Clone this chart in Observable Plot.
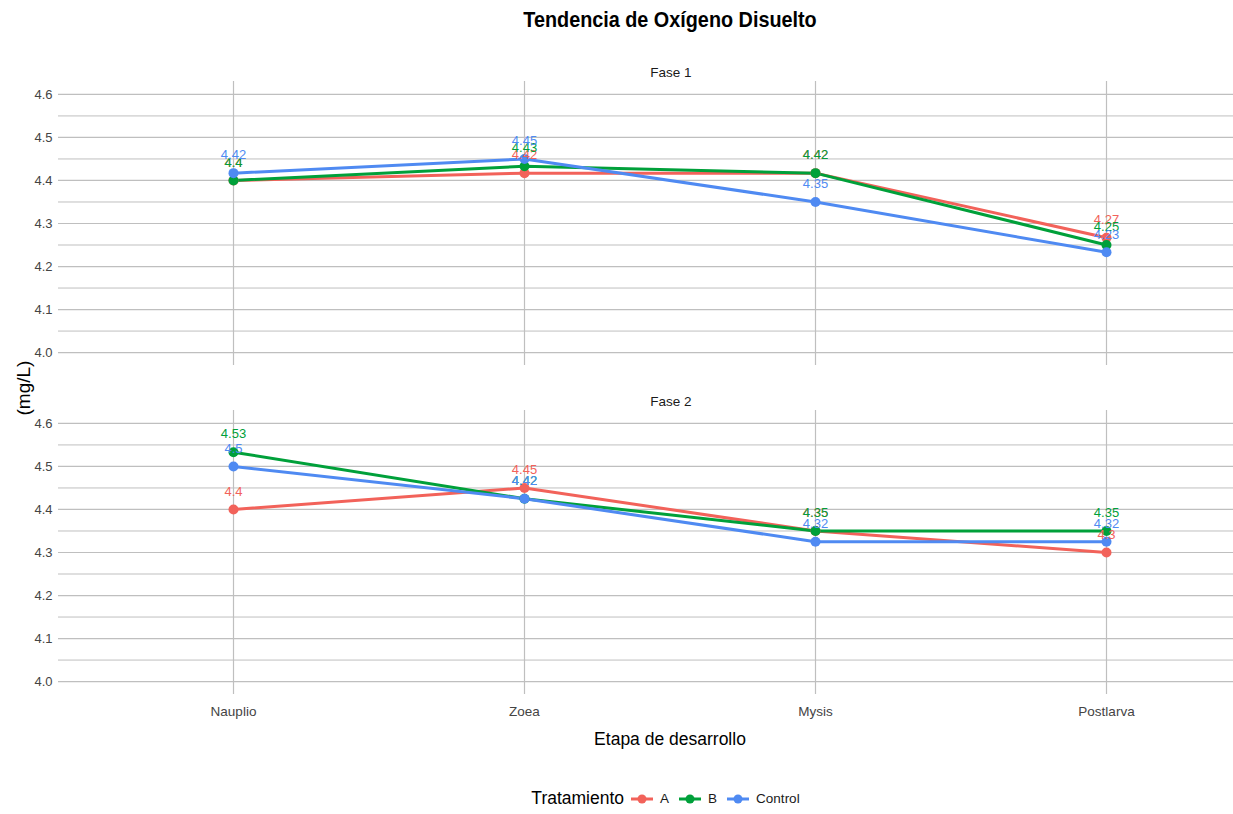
<!DOCTYPE html>
<html>
<head>
<meta charset="utf-8">
<script src="https://cdn.jsdelivr.net/npm/d3@7"></script>
<script src="https://cdn.jsdelivr.net/npm/@observablehq/plot@0.6"></script>
<style>
  body { margin:0; background:#fff; }
  #wrap { position:relative; width:1233px; height:814px; overflow:hidden; font-family:"Liberation Sans",Arial,sans-serif; }
  .abs { position:absolute; }
  #title { top:7px; left:0; width:1340px; text-align:center; font-size:22px; font-weight:bold; color:#000; transform:scaleX(0.9); }
  #ylab { left:24px; top:388px; transform:translate(-50%,-50%) rotate(-90deg); font-size:19px; color:#000; white-space:nowrap; }
  #xlab { top:729px; left:0; width:1340px; text-align:center; font-size:17.5px; color:#000; }
  #chart { top:45px; left:0; }
  #legend { top:788px; left:0; width:1340px; display:flex; justify-content:center; align-items:center; font-size:13.5px; color:#1a1a1a; }
  #legend .lt { font-size:17.5px; color:#000; margin-right:6px; }
  #legend .item { display:flex; align-items:center; margin-right:9px; }
  #legend svg { margin-right:6px; }
</style>
</head>
<body>
<div id="wrap">
  <div id="title" class="abs">Tendencia de Oxígeno Disuelto</div>
  <div id="ylab" class="abs">(mg/L)</div>
  <div id="chart" class="abs"></div>
  <div id="xlab" class="abs">Etapa de desarrollo</div>
  <div id="legend" class="abs"></div>
</div>
<script>
const stages = ["Nauplio", "Zoea", "Mysis", "Postlarva"];
const fases = ["Fase 1", "Fase 2"];
const treatments = ["A", "B", "Control"];
const colors = ["#F2625A", "#00A03A", "#4F8AF2"];
const majorTicks = [4.0, 4.1, 4.2, 4.3, 4.4, 4.5, 4.6];
const minorTicks = [4.05, 4.15, 4.25, 4.35, 4.45, 4.55];

// Fase 1
const fase1A = [4.40, 4.417, 4.417, 4.267];
const fase1B = [4.40, 4.433, 4.417, 4.25];
const fase1Control = [4.417, 4.45, 4.35, 4.233];
// Fase 2
const fase2A = [4.40, 4.45, 4.35, 4.30];
const fase2B = [4.533, 4.425, 4.35, 4.35];
const fase2Control = [4.50, 4.425, 4.325, 4.325];

const series = {
  "Fase 1": { A: fase1A, B: fase1B, Control: fase1Control },
  "Fase 2": { A: fase2A, B: fase2B, Control: fase2Control }
};
const data = [];
fases.forEach(f => treatments.forEach(t => stages.forEach((s, i) =>
  data.push({ fase: f, trat: t, etapa: s, valor: series[f][t][i] }))));

const fmt = v => String(+(v - 1e-9).toFixed(2));
const font = '"Liberation Sans",Arial,sans-serif';
const grid = "#BFBFBF";

const chart = Plot.plot({
  width: 1233,
  height: 715,
  marginLeft: 58,
  marginRight: 0,
  marginTop: 35,
  marginBottom: 65,
  style: { fontFamily: font, fontSize: "13px", color: "#4D4D4D", background: "transparent" },
  x: { type: "point", domain: stages, range: [233, 1106], padding: 0, axis: null },
  y: { domain: [3.97, 4.63], axis: null },
  fy: { domain: fases, paddingInner: 0.136, paddingOuter: 0, axis: null },
  color: { domain: treatments, range: colors },
  marks: [
    Plot.ruleY(minorTicks, { y: d => d, stroke: grid, strokeWidth: 1 }),
    Plot.ruleY(majorTicks, { y: d => d, stroke: grid, strokeWidth: 1.2 }),
    Plot.ruleX(stages, { x: d => d, stroke: grid, strokeWidth: 1.2 }),
    Plot.axisY({ ticks: majorTicks, tickSize: 0, tickPadding: 6, tickFormat: d => d.toFixed(1), label: null, fontSize: 13, fill: "#444" }),
    Plot.axisX({ tickSize: 0, tickPadding: 12, label: null, fontSize: 13.5, fill: "#444" }),
    Plot.line(data, { x: "etapa", y: "valor", z: "trat", stroke: "trat", fy: "fase", strokeWidth: 3 }),
    Plot.dot(data, { x: "etapa", y: "valor", fill: "trat", fy: "fase", r: 5 }),
    Plot.text(data, { x: "etapa", y: "valor", fy: "fase", text: d => fmt(d.valor), fill: "trat", dy: -18, fontSize: 13 }),
    Plot.text(fases, { fy: d => d, text: d => d, frameAnchor: "top", dy: -14, dx: 25, fontSize: 13.5, fill: "#1a1a1a" })
  ]
});
document.getElementById("chart").appendChild(chart);

// Legend
const leg = d3.select("#legend");
leg.append("span").attr("class", "lt").text("Tratamiento");
treatments.forEach((t, i) => {
  const item = leg.append("span").attr("class", "item");
  const s = item.append("svg").attr("width", 24).attr("height", 14);
  s.append("line").attr("x1", 1).attr("x2", 23).attr("y1", 7).attr("y2", 7).attr("stroke", colors[i]).attr("stroke-width", 3);
  s.append("circle").attr("cx", 12).attr("cy", 7).attr("r", 4.5).attr("fill", colors[i]);
  item.append("span").text(t);
});
</script>
</body>
</html>
